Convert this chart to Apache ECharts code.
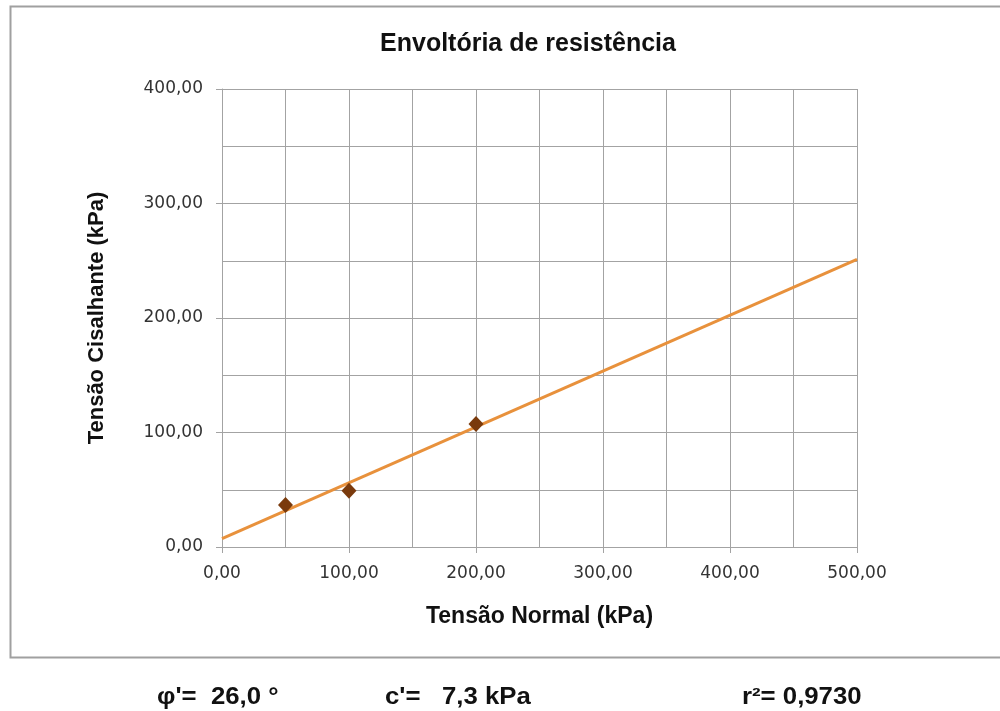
<!DOCTYPE html>
<html>
<head>
<meta charset="utf-8">
<script src="https://cdn.jsdelivr.net/npm/echarts@6/dist/echarts.min.js"></script>
<style>
  html, body { margin: 0; padding: 0; background: #fff; }
  #chart { width: 1000px; height: 711px; }
</style>
</head>
<body>
<div id="chart"></div>
<script>
// ensaios: tensão normal x tensão cisalhante (kPa)
const normalStress = [50, 100, 200];
const shearStress = [36.7, 49.2, 107.5];
// linha de tendência (envoltória)
const envelopeX = [0, 500];
const envelopeY = [7.3, 251.2];
const summary = ["φ'=  26,0 °", "c'=   7,3 kPa", "r²= 0,9730"];

const fmt = (v) => v.toFixed(2).replace(".", ",");

const element = document.getElementById("chart");
const myChart = echarts.init(element, null, { renderer: "canvas" });

const gridColor = "#a3a3a3";
const boldFont = "Arial, 'Liberation Sans', sans-serif";
const tickFont = "'DejaVu Sans', sans-serif";
const footFont = "bold 23px Arial, 'Liberation Sans', sans-serif";

const option = {
  animation: false,
  backgroundColor: "#fff",
  title: {
    text: "Envoltória de resistência",
    left: 523,
    top: 27,
    textAlign: "center",
    textStyle: { fontFamily: boldFont, fontSize: 25, fontWeight: "bold", color: "#111" },
  },
  grid: { left: 222, right: 143, top: 89, bottom: 164 },
  xAxis: {
    type: "value",
    min: 0,
    max: 500,
    interval: 100,
    name: "Tensão Normal (kPa)",
    nameLocation: "middle",
    nameGap: 58,
    nameTextStyle: { fontFamily: boldFont, fontSize: 23, fontWeight: "bold", color: "#111" },
    axisLine: { show: true, lineStyle: { color: gridColor, width: 1 } },
    axisTick: { show: true, length: 6, lineStyle: { color: gridColor } },
    minorTick: { show: false, splitNumber: 2 },
    minorSplitLine: { show: true, lineStyle: { color: gridColor, width: 1 } },
    splitLine: { show: true, lineStyle: { color: gridColor, width: 1 } },
    axisLabel: { formatter: fmt, fontFamily: tickFont, fontSize: 17, color: "#333", margin: 18 },
  },
  yAxis: {
    type: "value",
    min: 0,
    max: 400,
    interval: 100,
    name: "Tensão Cisalhante (kPa)",
    nameLocation: "middle",
    nameGap: 114,
    nameTextStyle: { fontFamily: boldFont, fontSize: 22, fontWeight: "bold", color: "#111" },
    axisLine: { show: true, lineStyle: { color: gridColor, width: 1 } },
    axisTick: { show: true, length: 6, lineStyle: { color: gridColor } },
    minorTick: { show: false, splitNumber: 2 },
    minorSplitLine: { show: true, lineStyle: { color: gridColor, width: 1 } },
    splitLine: { show: true, lineStyle: { color: gridColor, width: 1 } },
    axisLabel: { formatter: fmt, fontFamily: tickFont, fontSize: 17, color: "#333", margin: 19 },
  },
  series: [
    {
      name: "envoltoria",
      type: "line",
      data: envelopeX.map((x, i) => [x, envelopeY[i]]),
      symbol: "none",
      lineStyle: { color: "#e8913c", width: 3 },
      z: 2,
    },
    {
      name: "ensaios",
      type: "scatter",
      data: normalStress.map((x, i) => [x, shearStress[i]]),
      symbol: "diamond",
      symbolSize: [15, 16],
      itemStyle: { color: "#7a3a0c", opacity: 1 },
      z: 3,
    },
  ],
  graphic: [
    {
      type: "rect",
      shape: { x: 10.5, y: 6.5, width: 1000, height: 651 },
      style: { fill: null, stroke: "#a0a0a0", lineWidth: 2 },
      silent: true,
    },
    {
      type: "text",
      x: 157,
      y: 686,
      scaleX: 1.12,
      style: { text: summary[0], font: footFont, fill: "#111" },
    },
    {
      type: "text",
      x: 385,
      y: 686,
      scaleX: 1.12,
      style: { text: summary[1], font: footFont, fill: "#111" },
    },
    {
      type: "text",
      x: 742,
      y: 686,
      scaleX: 1.12,
      style: { text: summary[2], font: footFont, fill: "#111" },
    },
  ],
};

myChart.setOption(option);
window.addEventListener("resize", myChart.resize);
</script>
</body>
</html>
